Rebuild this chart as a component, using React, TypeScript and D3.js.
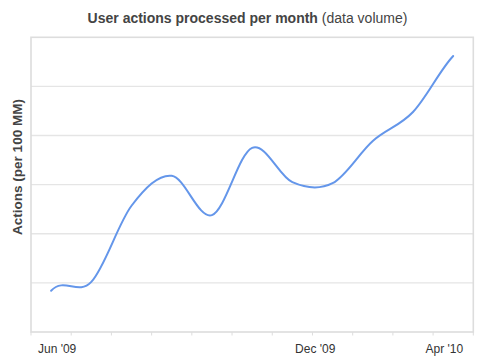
import React, { useEffect, useRef } from "react";
import * as d3 from "d3";

// monthly values, in units of 100 MM actions
const months = ["Jun", "Jul", "Aug", "Sep", "Oct", "Nov", "Dec", "Jan", "Feb", "Mar", "Apr"];
const actions = [0.84, 1.02, 2.57, 3.18, 2.38, 3.75, 3.05, 3.03, 3.89, 4.48, 5.62];
const yTicks = [0, 1, 2, 3, 4, 5, 6];

// axis labels and where they sit along the month axis (month index)
const xLabels = ["Jun '09", "Dec '09", "Apr '10"];
const xLabelAt = [0.15, 6.57, 9.78];

// smooth curve: catmull-rom inside, end tangents copied from the neighbour point
function curveSmoothEnds(context: any) {
  let xs: number[] = [];
  let ys: number[] = [];
  return {
    areaStart() {},
    areaEnd() {},
    lineStart() {
      xs = [];
      ys = [];
    },
    point(x: number, y: number) {
      xs.push(+x);
      ys.push(+y);
    },
    lineEnd() {
      const n = xs.length;
      if (!n) return;
      context.moveTo(xs[0], ys[0]);
      if (n < 3) {
        if (n === 2) context.lineTo(xs[1], ys[1]);
        return;
      }
      const tx: number[] = [];
      const ty: number[] = [];
      for (let i = 1; i < n - 1; i++) {
        tx[i] = (xs[i + 1] - xs[i - 1]) / 2;
        ty[i] = (ys[i + 1] - ys[i - 1]) / 2;
      }
      tx[0] = tx[1];
      ty[0] = ty[1];
      tx[n - 1] = tx[n - 2];
      ty[n - 1] = ty[n - 2];
      for (let i = 0; i < n - 1; i++) {
        context.bezierCurveTo(
          xs[i] + tx[i] / 3,
          ys[i] + ty[i] / 3,
          xs[i + 1] - tx[i + 1] / 3,
          ys[i + 1] - ty[i + 1] / 3,
          xs[i + 1],
          ys[i + 1]
        );
      }
    },
  };
}

export default function App() {
  const svgRef = useRef<SVGSVGElement | null>(null);

  useEffect(() => {
    if (!svgRef.current) return;
    const svg = d3.select(svgRef.current);
    svg.selectAll("*").remove();

    const width = 492;
    const height = 363;
    const margin = { top: 37.3, right: 18.7, bottom: 31, left: 31 };
    const chartWidth = width - margin.left - margin.right;
    const chartHeight = height - margin.top - margin.bottom;

    const x = d3.scaleBand().domain(months).range([0, chartWidth]);
    const xMid = (m: string) => (x(m) as number) + x.bandwidth() / 2;
    const xIdx = d3
      .scaleLinear()
      .domain([0, months.length - 1])
      .range([xMid(months[0]), xMid(months[months.length - 1])]);
    const y = d3.scaleLinear().domain([0, 6]).range([chartHeight, 0]);

    const g = svg
      .append("g")
      .attr("transform", `translate(${margin.left},${margin.top})`);

    // gridlines
    g.append("g")
      .selectAll("line")
      .data(yTicks.slice(1, -1))
      .enter()
      .append("line")
      .attr("x1", 0)
      .attr("x2", chartWidth)
      .attr("y1", (d) => y(d))
      .attr("y2", (d) => y(d))
      .attr("stroke", "#e5e5e5")
      .attr("stroke-width", 1.4);

    // frame
    g.append("rect")
      .attr("x", 0)
      .attr("y", 0)
      .attr("width", chartWidth)
      .attr("height", chartHeight)
      .attr("fill", "none")
      .attr("stroke", "#dddddd")
      .attr("stroke-width", 1.6);

    // x tick marks on band boundaries
    const bounds = [...months.map((m) => x(m) as number), chartWidth];
    g.append("g")
      .selectAll("line")
      .data(bounds)
      .enter()
      .append("line")
      .attr("x1", (d) => d)
      .attr("x2", (d) => d)
      .attr("y1", chartHeight)
      .attr("y2", chartHeight + 3.5)
      .attr("stroke", "#dddddd")
      .attr("stroke-width", 1);

    // x labels
    g.append("g")
      .selectAll("text")
      .data(xLabels)
      .enter()
      .append("text")
      .attr("x", (_, i) => xIdx(xLabelAt[i]))
      .attr("y", chartHeight + 21)
      .attr("text-anchor", "middle")
      .attr("font-family", "Liberation Sans, Arial, sans-serif")
      .attr("font-size", "12px")
      .attr("fill", "#333333")
      .text((d) => d);

    // line
    const line = d3
      .line<number>()
      .x((_, i) => xMid(months[i]))
      .y((d) => y(d))
      .curve(curveSmoothEnds as any);

    g.append("path")
      .datum(actions)
      .attr("d", line)
      .attr("fill", "none")
      .attr("stroke", "#6496ea")
      .attr("stroke-width", 2)
      .attr("stroke-linejoin", "round")
      .attr("stroke-linecap", "round");

    // title
    const title = svg
      .append("text")
      .attr("x", 247.5)
      .attr("y", 22.5)
      .attr("text-anchor", "middle")
      .attr("font-family", "Liberation Sans, Arial, sans-serif")
      .attr("font-size", "14px")
      .attr("fill", "#444444");
    title.append("tspan").attr("font-weight", "bold").text("User actions processed per month");
    title.append("tspan").text(" (data volume)");

    // y label
    svg
      .append("text")
      .attr("transform", `translate(22,167) rotate(-90)`)
      .attr("text-anchor", "middle")
      .attr("font-family", "Liberation Sans, Arial, sans-serif")
      .attr("font-size", "13.5px")
      .attr("font-weight", "bold")
      .attr("fill", "#444444")
      .text("Actions (per 100 MM)");
  }, []);

  return (
    <svg
      ref={svgRef}
      width={492}
      height={363}
      style={{ position: "absolute", left: 0, top: 0, background: "#ffffff" }}
    />
  );
}
